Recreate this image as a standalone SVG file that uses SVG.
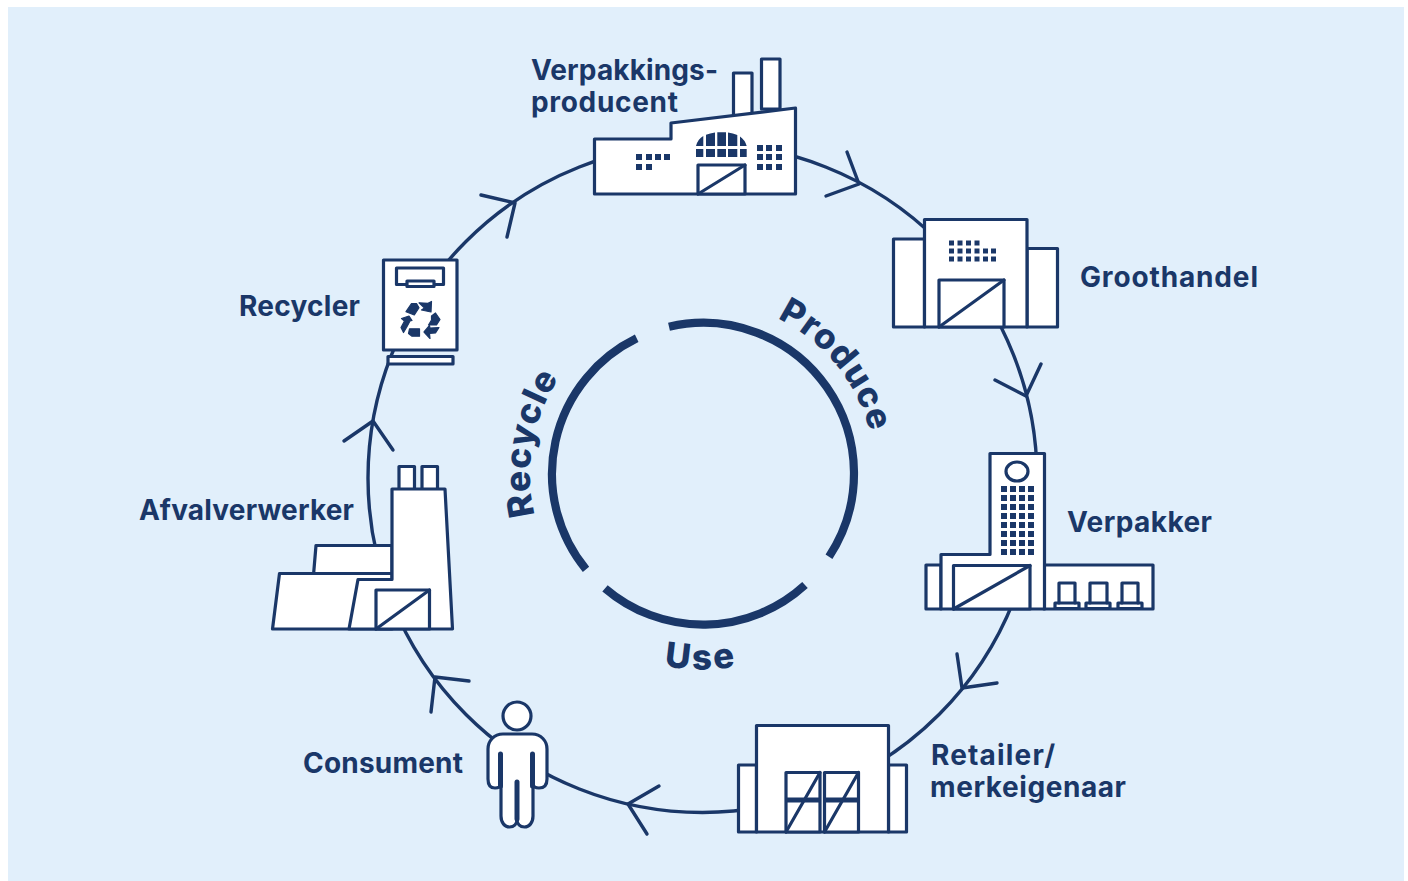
<svg xmlns="http://www.w3.org/2000/svg" width="1408" height="881" viewBox="0 0 1408 881">
<style>
.s{fill:#fff;stroke:#1a3768;stroke-width:3.2;stroke-linejoin:round;stroke-linecap:round}
.n{fill:none;stroke:#1a3768;stroke-width:3.2;stroke-linejoin:round;stroke-linecap:round}
.f{fill:#1a3768;stroke:none}
.y{fill:#1a3768;stroke:#1a3768;stroke-width:1.2;stroke-linejoin:round}
.c{fill:none;stroke:#1a3768;stroke-width:3.4;stroke-linecap:round;stroke-linejoin:round}
.r{fill:none;stroke:#1a3768;stroke-width:8.200}
text{font-family:"Inter","Liberation Sans",sans-serif;font-weight:700;fill:#1a3768}
.l{font-size:28px}
.b{font-size:35px;font-weight:800}
</style>
<defs>
<path id="pP" d="M777.400 318.500A172 172 0 0 1 874.800 473.500"/>
<path id="pR" d="M535 515A172 172 0 0 1 660 307"/>
<path id="pU" d="M551 599.700A196 196 0 0 0 851 599.700"/>
</defs>
<rect x="8" y="7" width="1396" height="874" fill="#e1effb"/>
<g id="connectors">
<circle class="c" cx="702.500" cy="478" r="334.500"/>
<path class="c" d="M847 152L859 184L826 196"/>
<path class="c" d="M995 380L1026 396L1041 364"/>
<path class="c" d="M957 654L962 688L997 683"/>
<path class="c" d="M659 786L628 804L647 834"/>
<path class="c" d="M469 681L435 677L431 712"/>
<path class="c" d="M344 441L373 421L393 450"/>
<path class="c" d="M481 195L515 203L507 237"/>
</g>
<g id="inner-ring">
<path class="r" d="M669 326.700A150.800 150.800 0 0 1 829 556.700"/>
<path class="r" d="M805 585A150.800 150.800 0 0 1 605 588.300"/>
<path class="r" d="M586 569.300A150.800 150.800 0 0 1 636.700 338.300"/>
<text class="b" letter-spacing="1"><textPath href="#pP">Produce</textPath></text>
<text class="b" letter-spacing="1"><textPath href="#pR">Recycle</textPath></text>
<text class="b" letter-spacing="2.500" text-anchor="middle"><textPath href="#pU" startOffset="50%">Use</textPath></text>
</g>
<g id="verpakkingsproducent">
<rect class="s" x="733.500" y="73" width="18.500" height="45"/>
<rect class="s" x="761.500" y="59" width="18.500" height="50"/>
<path class="s" d="M594.500 194V139H671V123L795.500 108V194Z"/>
<path class="f" d="M696 146Q698 139 703.300 136.100V146ZM706 146V134.800Q710 133 715 132.400V146ZM717.300 146V132.200H726V146ZM728 146V132.500Q733 133 737.300 135.100V146ZM740 146V136.500Q745 140 746.700 146Z"/>
<path class="f" d="M696 149H703.300V157H696ZM706 149H715V157H706ZM717.300 149H726V157H717.300ZM728 149H737.300V157H728ZM740 149H746.700V157H740Z"/>
<rect class="s" x="698" y="165" width="47" height="29"/>
<path class="n" d="M698 194L745 165"/>
<path class="f" d="M636 154h6v6h-6zM646 154h6v6h-6zM655 154h6v6h-6zM664 154h6v6h-6zM636 164h6v6h-6zM646 164h6v6h-6z"/>
<path class="f" d="M757 145h6v6h-6zM766 145h6v6h-6zM776 145h6v6h-6zM757 154h6v6h-6zM766 154h6v6h-6zM776 154h6v6h-6zM757 164h6v6h-6zM766 164h6v6h-6zM776 164h6v6h-6z"/>
<text class="l" x="531" y="80" textLength="187">Verpakkings-</text>
<text class="l" x="531" y="112" textLength="147">producent</text>
</g>
<g id="groothandel">
<rect class="s" x="893.500" y="239" width="31" height="88"/>
<rect class="s" x="1027" y="248.500" width="30.500" height="78.500"/>
<rect class="s" x="924.500" y="219.500" width="102.500" height="107.500"/>
<rect class="s" x="939" y="280" width="65" height="47"/>
<path class="n" d="M939 327L1004 280"/>
<path class="f" d="M949 240.500h5v5h-5zM957.500 240.500h5v5h-5zM966 240.500h5v5h-5zM974.500 240.500h5v5h-5zM949 248.500h5v5h-5zM957.500 248.500h5v5h-5zM966 248.500h5v5h-5zM974.500 248.500h5v5h-5zM983 248.500h5v5h-5zM991 248.500h5v5h-5zM949 256.500h5v5h-5zM957.500 256.500h5v5h-5zM966 256.500h5v5h-5zM974.500 256.500h5v5h-5zM983 256.500h5v5h-5zM991 256.500h5v5h-5z"/>
<text class="l" x="1080" y="287" textLength="178">Groothandel</text>
</g>
<g id="verpakker">
<rect class="s" x="926" y="565" width="15" height="44"/>
<rect class="s" x="1044" y="565" width="109" height="44"/>
<path class="s" d="M941 609V554.500H990V453.500H1044.500V609Z"/>
<rect class="s" x="953.500" y="565.500" width="76.500" height="43.500"/>
<path class="n" d="M953.500 609L1030 565.500"/>
<ellipse class="n" cx="1017" cy="471.500" rx="11" ry="9.500"/>
<path class="f" d="M1001 486h6v6h-6zM1010 486h6v6h-6zM1019 486h6v6h-6zM1028 486h6v6h-6zM1001 495h6v6h-6zM1010 495h6v6h-6zM1019 495h6v6h-6zM1028 495h6v6h-6zM1001 504h6v6h-6zM1010 504h6v6h-6zM1019 504h6v6h-6zM1028 504h6v6h-6zM1001 513h6v6h-6zM1010 513h6v6h-6zM1019 513h6v6h-6zM1028 513h6v6h-6zM1001 522h6v6h-6zM1010 522h6v6h-6zM1019 522h6v6h-6zM1028 522h6v6h-6zM1001 531h6v6h-6zM1010 531h6v6h-6zM1019 531h6v6h-6zM1028 531h6v6h-6zM1001 540h6v6h-6zM1010 540h6v6h-6zM1019 540h6v6h-6zM1028 540h6v6h-6zM1001 549h6v6h-6zM1010 549h6v6h-6zM1019 549h6v6h-6zM1028 549h6v6h-6z"/>
<path class="n" d="M1059 603V583H1075V603M1090 603V583H1107V603M1122 603V583H1138V603"/>
<rect class="n" x="1055" y="603" width="24" height="5.500"/>
<rect class="n" x="1086" y="603" width="24" height="5.500"/>
<rect class="n" x="1118" y="603" width="24" height="5.500"/>
<text class="l" x="1067" y="532" textLength="145">Verpakker</text>
</g>
<g id="retailer">
<rect class="s" x="738.500" y="765" width="18" height="67"/>
<rect class="s" x="888.500" y="765" width="18" height="67"/>
<rect class="s" x="756.500" y="725.500" width="132" height="106.500"/>
<rect class="s" x="786" y="772.500" width="34" height="59.500"/>
<rect class="s" x="824.500" y="772.500" width="34" height="59.500"/>
<path class="f" d="M786 797.500h34v5h-34zM824.500 797.500h34v5h-34z"/>
<path class="n" d="M786 832L820 772.500M824.500 832L858.500 772.500"/>
<text class="l" x="931" y="765" textLength="124">Retailer/</text>
<text class="l" x="930" y="797" textLength="196">merkeigenaar</text>
</g>
<g id="consument">
<circle class="s" cx="517" cy="716" r="14"/>
<path class="s" d="M503 734H532C541 734 547 741 547 749V779C547 786 543 788 539 788C535 788 533 786 533 784V816C533 823 529 827 524.500 827C520 827 517 824 517 819C517 824 514 827 509.500 827C505 827 501 823 501 816V784C501 786 499 788 495 788C491 788 488 786 488 779V749C488 741 494 734 503 734Z"/>
<path class="n" d="M517 782V819" style="stroke-width:5"/>
<path class="n" d="M500.500 754V786M532.500 754V786" style="stroke-width:5"/>
<text class="l" x="303" y="773" textLength="160">Consument</text>
</g>
<g id="afvalverwerker">
<rect class="s" x="399" y="466.500" width="15.500" height="23"/>
<rect class="s" x="422" y="466.500" width="15.500" height="23"/>
<path class="s" d="M316 545.500H392V575H313.500Z"/>
<path class="s" d="M279.500 573.500H392V629H272.500Z"/>
<path class="s" d="M392 489H445L452.500 629H349L358 579.500H392Z"/>
<rect class="s" x="376" y="590" width="53.500" height="39"/>
<path class="n" d="M376 629L429.500 590"/>
<text class="l" x="139" y="520" textLength="215">Afvalverwerker</text>
</g>
<g id="recycler">
<rect class="s" x="383.500" y="260" width="73.500" height="90"/>
<rect class="s" x="388" y="356.500" width="65" height="7.500"/>
<path class="n" d="M396.500 284.500V268H443.500V284.500Z"/>
<rect class="s" x="407" y="281" width="27" height="5.500"/>
<path class="y" d="M406 311.700L411.500 303.500L416.500 303.500L419 307.700L414.300 315Z"/>
<path class="y" d="M419 302.800L428 303.300L431.500 301.500L431 312L421.500 310L424.500 308Z"/>
<path class="y" d="M435.500 313L440 319.500L436.500 325L428.500 325L431.500 320L431.500 316Z"/>
<path class="y" d="M439 327.500L435.500 333L429.500 333.500L430 338.500L424 332L429.500 325.500L430 328Z"/>
<path class="y" d="M409.500 328.800H419.500V336.200H412L408.500 333.500Z"/>
<path class="y" d="M401.500 318.500L409 316L412 320.500L410 321L406.500 327.500L403.500 332.500L401 327.500L404.500 321Z"/>
<text class="l" x="239" y="316" textLength="121">Recycler</text>
</g>
</svg>
